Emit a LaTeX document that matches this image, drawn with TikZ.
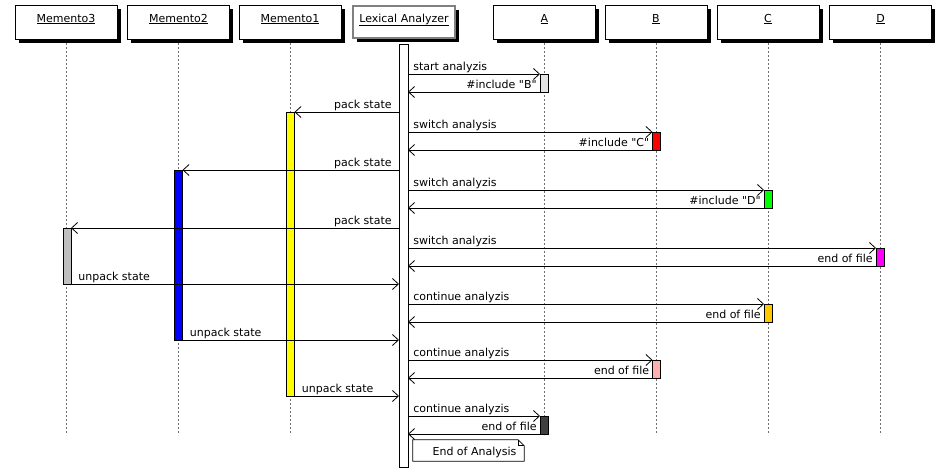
\documentclass[tikz,border=0pt]{standalone}
\usepackage{fontspec}
\setmainfont{DejaVu Sans}[Ligatures=TeXOff]
\usetikzlibrary{arrows.meta,shadows}
\definecolor{lgrey}{RGB}{192,192,192}
\definecolor{vlgrey}{RGB}{228,228,228}
\definecolor{dgrey}{RGB}{64,64,64}
\definecolor{jorange}{RGB}{255,200,0}
\definecolor{jpink}{RGB}{255,175,175}
\definecolor{jgreen}{RGB}{0,255,0}
\definecolor{jred}{RGB}{255,0,0}
\definecolor{jblue}{RGB}{0,0,255}
\definecolor{jyellow}{RGB}{255,255,0}
\definecolor{jmagenta}{RGB}{255,0,255}
\definecolor{lifegrey}{RGB}{110,110,110}
\begin{document}
\begin{tikzpicture}[x=1pt,y=-1pt,
  font=\fontsize{11}{13}\selectfont,
  head/.style={draw=black, line width=0.8pt, fill=white, minimum width=102pt, minimum height=34pt,
    inner sep=0pt, outer sep=0pt,
    drop shadow={shadow xshift=3.5pt, shadow yshift=-3.5pt, fill=black, opacity=1}},
  lexhead/.style={head, line width=0.6pt, double=gray, double distance=1.6pt, minimum width=102pt, minimum height=32pt},
  headtext/.style={inner sep=0pt, anchor=base},
  lifeline/.style={draw=lifegrey, line width=0.7pt, dash pattern=on 2pt off 2pt},
  actbar/.style={draw=black, line width=0.8pt, minimum width=8pt, inner sep=0pt, outer sep=0pt},
  msg/.style={draw=black, line width=0.8pt, -{Straight Barb[length=6pt,width=11pt,line width=0.8pt]}},
  lblL/.style={pos=0, anchor=base west, inner sep=0pt, xshift=5pt, yshift=4pt},
  lblR/.style={pos=0, anchor=base east, inner sep=0pt, xshift=-3pt, yshift=4pt},
  lblP/.style={pos=0, anchor=base east, inner sep=0pt, xshift=-7pt, yshift=4pt},
  lblU/.style={pos=0, anchor=base west, inner sep=0pt, xshift=7pt, yshift=4pt},
  notebox/.style={draw=black, line width=0.8pt, fill=white}
]
\useasboundingbox (0,0) rectangle (942,472);
\fill[white] (0,0) rectangle (942,472);

% headers
\node[head] (hm3) at (66,22) {};
\node[head] (hm2) at (178.5,22) {};
\node[head] (hm1) at (290,22) {};
\node[lexhead] (hlex) at (404,22) {};
\node[head] (ha) at (544.5,22) {};
\node[head] (hb) at (656,22) {};
\node[head] (hc) at (768,22) {};
\node[head] (hd) at (880.5,22) {};

\node[headtext] (tm3) at (66,22) {\underline{Memento3}};
\node[headtext] (tm2) at (178.5,22) {\underline{Memento2}};
\node[headtext] (tm1) at (290,22) {\underline{Memento1}};
\node[headtext] (tlex) at (404,22) {\underline{Lexical Analyzer}};
\node[headtext] (ta) at (544.5,22) {\underline{A}};
\node[headtext] (tb) at (656,22) {\underline{B}};
\node[headtext] (tc) at (768,22) {\underline{C}};
\node[headtext] (td) at (880.5,22) {\underline{D}};

% lifelines
\coordinate (bottom) at (0,435);
\draw[lifeline] ([yshift=-4pt]hm3.south) -- (hm3.south |- bottom);
\draw[lifeline] ([yshift=-4pt]hm2.south) -- (hm2.south |- bottom);
\draw[lifeline] ([yshift=-4pt]hm1.south) -- (hm1.south |- bottom);
\draw[lifeline] ([yshift=-4pt]ha.south) -- (ha.south |- bottom);
\draw[lifeline] ([yshift=-4pt]hb.south) -- (hb.south |- bottom);
\draw[lifeline] ([yshift=-4pt]hc.south) -- (hc.south |- bottom);
\draw[lifeline] ([yshift=-4pt]hd.south) -- (hd.south |- bottom);

% activation bars
\node[actbar, fill=white, minimum width=9pt, minimum height=423pt] (lex) at (403.5,255.5) {};
\node[actbar, fill=vlgrey, minimum height=18pt] (a1) at (544,83) {};
\node[actbar, fill=jyellow, minimum height=284pt] (m1) at (290.5,254) {};
\node[actbar, fill=jred, minimum height=18pt] (b1) at (656.5,141) {};
\node[actbar, fill=jblue, minimum height=170pt] (m2) at (178.5,255) {};
\node[actbar, fill=jgreen, minimum height=18pt] (c1) at (768,199) {};
\node[actbar, fill=lgrey, minimum height=56pt] (m3) at (67,256) {};
\node[actbar, fill=jmagenta, minimum height=18pt] (d1) at (880,257) {};
\node[actbar, fill=jorange, minimum height=18pt] (c2) at (768,313) {};
\node[actbar, fill=jpink, minimum height=18pt] (b2) at (656.5,369) {};
\node[actbar, fill=dgrey, minimum height=18pt] (a2) at (544,425) {};

% messages
\draw[msg] (lex.east |- a1.north) -- (a1.north west) node[lblL] {start analyzis};
\draw[msg] (a1.south west) -- (lex.east |- a1.south) node[lblR] {\#include "B"};
\draw[msg] (lex.west |- m1.north) -- (m1.north east) node[lblP] {pack state};

\draw[msg] (lex.east |- b1.north) -- (b1.north west) node[lblL] {switch analysis};
\draw[msg] (b1.south west) -- (lex.east |- b1.south) node[lblR] {\#include "C"};
\draw[msg] (lex.west |- m2.north) -- (m2.north east) node[lblP] {pack state};

\draw[msg] (lex.east |- c1.north) -- (c1.north west) node[lblL] {switch analyzis};
\draw[msg] (c1.south west) -- (lex.east |- c1.south) node[lblR] {\#include "D"};
\draw[msg] (lex.west |- m3.north) -- (m3.north east) node[lblP] {pack state};

\draw[msg] (lex.east |- d1.north) -- (d1.north west) node[lblL] {switch analyzis};
\draw[msg] (d1.south west) -- (lex.east |- d1.south) node[lblR] {end of file};
\draw[msg] (m3.south east) -- (lex.west |- m3.south) node[lblU] {unpack state};

\draw[msg] (lex.east |- c2.north) -- (c2.north west) node[lblL] {continue analyzis};
\draw[msg] (c2.south west) -- (lex.east |- c2.south) node[lblR] {end of file};
\draw[msg] (m2.south east) -- (lex.west |- m2.south) node[lblU] {unpack state};

\draw[msg] (lex.east |- b2.north) -- (b2.north west) node[lblL] {continue analyzis};
\draw[msg] (b2.south west) -- (lex.east |- b2.south) node[lblR] {end of file};
\draw[msg] (m1.south east) -- (lex.west |- m1.south) node[lblU] {unpack state};

\draw[msg] (lex.east |- a2.north) -- (a2.north west) node[lblL] {continue analyzis};
\draw[msg] (a2.south west) -- (lex.east |- a2.south) node[lblR] {end of file};

% note
\node[inner sep=0pt, minimum width=111pt, minimum height=21pt] (note) at (468.5,450.5) {};
\draw[notebox] (note.south west) -- (note.north west) -- ([xshift=-6pt]note.north east)
  -- ([yshift=-6pt]note.north east) -- (note.south east) -- cycle;
\draw[draw=black, line width=0.8pt] ([xshift=-6pt]note.north east) -- ([xshift=-6pt,yshift=-6pt]note.north east) -- ([yshift=-6pt]note.north east);
\node[inner sep=0pt, anchor=base] (notetext) at (474.5,455) {End of Analysis};
\end{tikzpicture}
\end{document}
